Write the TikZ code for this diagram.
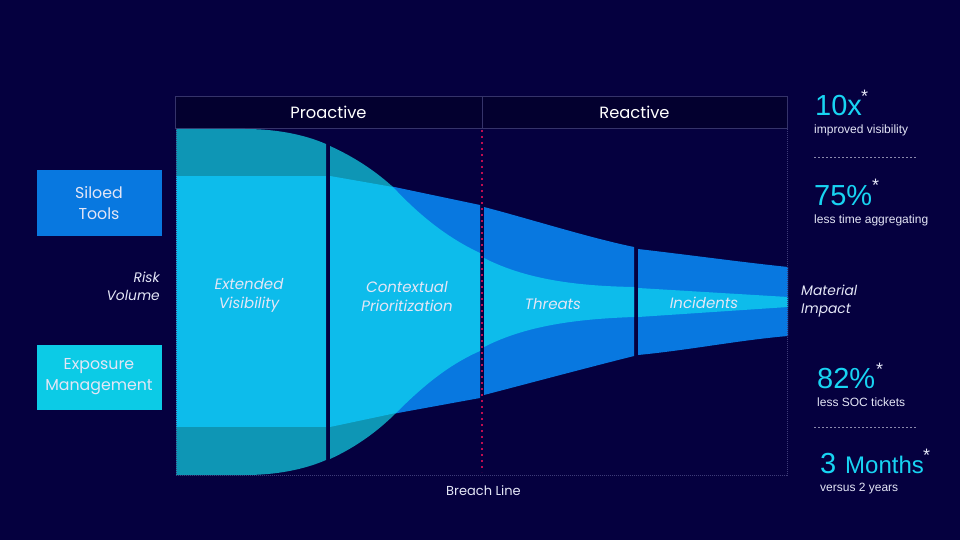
\documentclass[tikz,border=0pt]{standalone}
\usepackage{fontspec}
\setmainfont{Poppins}[Scale=1.0]
\newfontfamily\arialf{Liberation Sans}
\definecolor{bgc}{HTML}{05003F}
\definecolor{hdrc}{HTML}{03002F}
\definecolor{hdrl}{HTML}{35336A}
\definecolor{lightc}{HTML}{0DBCEB}
\definecolor{tealc}{HTML}{0E96B5}
\definecolor{bluec}{HTML}{0878E0}
\definecolor{boxc}{HTML}{0CCBE6}
\definecolor{statc}{HTML}{18D4F2}
\definecolor{textc}{HTML}{E4E6F6}
\definecolor{redd}{HTML}{C00C50}
\definecolor{dotc}{HTML}{3E3C78}
\tikzset{
  hdrbox/.style={draw=hdrl,line width=0.8pt,fill=hdrc,minimum height=32pt,inner sep=0pt,text=white,font=\fontsize{16.3}{18}\selectfont},
  sidebox/.style={minimum width=125pt,minimum height=65pt,inner sep=0pt,align=center,text=textc,font=\fontsize{15.8}{21}\selectfont},
  stage/.style={text=textc,align=center,inner sep=0pt,font=\itshape\fontsize{15}{19}\selectfont},
  lbl/.style={text=textc,inner sep=0pt,font=\itshape\fontsize{13.8}{18}\selectfont},
  bignum/.style={anchor=base west,inner sep=0pt,text=statc,font=\arialf\fontsize{29}{30}\selectfont},
  midnum/.style={anchor=base west,inner sep=0pt,text=statc,font=\arialf\fontsize{24}{26}\selectfont},
  star/.style={anchor=base west,inner sep=0pt,text=textc,font=\arialf\fontsize{18}{18}\selectfont},
  sub/.style={anchor=base west,inner sep=0pt,text=textc,font=\arialf\fontsize{12}{12}\selectfont},
  sep/.style={draw=textc!60!bgc,line width=0.6pt,dash pattern=on 2pt off 2pt},
  dotline/.style={draw=dotc,line width=1pt,dash pattern=on 1pt off 1pt},
}
\begin{document}
\begin{tikzpicture}[x=1pt,y=-1pt]
\useasboundingbox (0,0) rectangle (960,540);
\fill[bgc] (0,0) rectangle (960,540);
% header
\node[hdrbox,minimum width=307pt] (pro) at (328.5,112) {Proactive};
\node[hdrbox,minimum width=305pt] (rea) at (634.5,112) {Reactive};
% section 1
\fill[tealc] (176,129) -- (245,129) .. controls (275,129) and (303,134) .. (326,144) -- (326,460) .. controls (303,470) and (275,475) .. (245,475) -- (176,475) -- cycle;
\fill[lightc] (176,176) rectangle (326,427);
% section 2
\fill[tealc] (330,146) .. controls (352,156) and (373,169) .. (393,187) -- (396,413) .. controls (375,434) and (352,449) .. (330,459) -- cycle;
\fill[bluec] (392,186.5) -- (480,205) -- (480,398) -- (395,413.5) -- cycle;
\fill[lightc] (330,176) -- (393,187) .. controls (420,216) and (448,238) .. (480,253) -- (480,351) .. controls (448,365) and (422,387) .. (396,413) -- (330,427) -- cycle;
% section 3
\fill[bluec] (484,207) .. controls (530,219) and (590,238) .. (634,247) -- (634,356) .. controls (590,367) and (530,383) .. (484,395) -- cycle;
\fill[lightc] (484,258) .. controls (525,279) and (575,286) .. (634,287) -- (634,317) .. controls (575,319) and (525,326) .. (484,347) -- cycle;
% section 4
\fill[bluec] (638,249) .. controls (690,255) and (740,262) .. (788,267) -- (788,336) .. controls (740,340) and (690,350) .. (638,355) -- cycle;
\fill[lightc] (638,288) -- (788,297) -- (788,307) -- (638,317) -- cycle;
% dotted frame
\draw[dotline] (176,129) -- (176,475) -- (787,475) -- (787,129);
\draw[draw=redd,line width=2pt,dash pattern=on 2pt off 4pt] (482,130) -- (482,472);
% side boxes
\node[sidebox,fill=bluec] (silo) at (99,203) {Siloed\\Tools};
\node[sidebox,fill=boxc] (expo) at (99,377) {Exposure\\Management};
\node[lbl,align=right,anchor=east] (risk) at (160,286) {Risk\\Volume};
% stage labels
\node[stage] (ev) at (249,295) {Extended\\Visibility};
\node[stage] (cp) at (407,297) {Contextual\\Prioritization};
\node[stage] (th) at (553,304) {Threats};
\node[stage] (inc) at (704,303) {Incidents};
\node[lbl,align=left,anchor=west] (mi) at (801,301) {Material\\Impact};
\node[text=textc,inner sep=0pt,font=\fontsize{13}{15}\selectfont] (bl) at (483.5,491) {Breach Line};
% stats
\node[bignum] (s1) at (815,116) {10x};
\node[star] (s1s) at (861,103) {*};
\node[sub] (s1t) at (814,134) {improved visibility};
\coordinate (l1a) at (814,157.5); \coordinate (l1b) at (916,157.5);
\draw[sep] (l1a) -- (l1b);
\node[bignum] (s2) at (814,205) {75\%};
\node[star] (s2s) at (872,191) {*};
\node[sub] (s2t) at (814,223) {less time aggregating};
\node[bignum] (s3) at (817,388) {82\%};
\node[star] (s3s) at (876,375) {*};
\node[sub] (s3t) at (817,406) {less SOC tickets};
\coordinate (l2a) at (814,427.5); \coordinate (l2b) at (916,427.5);
\draw[sep] (l2a) -- (l2b);
\node[bignum] (s4) at (820,473) {3};
\node[midnum] (s4m) at (845,473) {Months};
\node[star] (s4s) at (923,461) {*};
\node[sub] (s4t) at (820,491) {versus 2 years};
\end{tikzpicture}
\end{document}
